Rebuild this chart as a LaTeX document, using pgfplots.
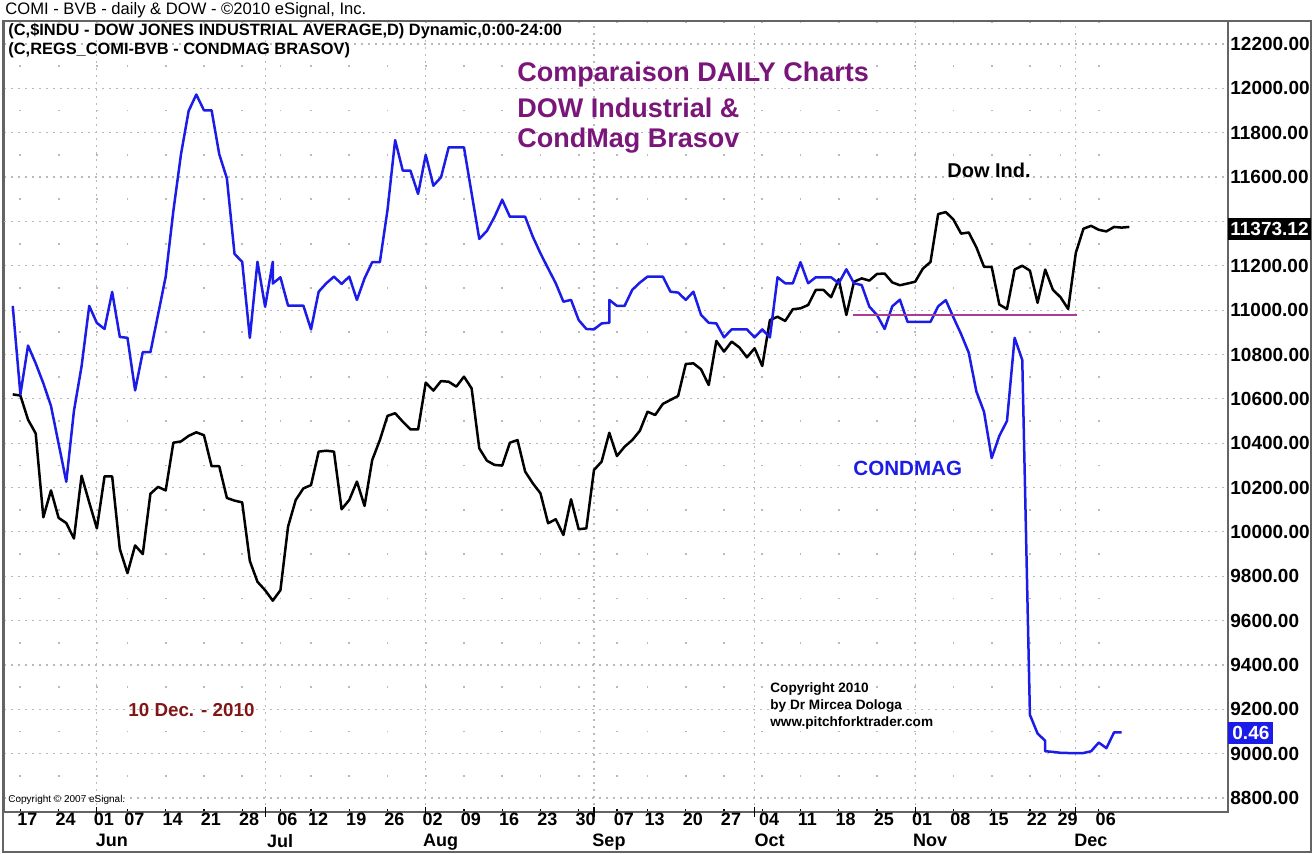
\documentclass[border=0pt]{standalone}
\usepackage{fontspec}
\setmainfont{Liberation Sans}
\usepackage{pgfplots}
\pgfplotsset{compat=1.18}
\usepackage{pgfplotstable}

\definecolor{cmblue}{RGB}{28,28,232}
\definecolor{ttlpurple}{RGB}{122,22,122}
\definecolor{datered}{RGB}{128,22,22}
\definecolor{lvlline}{RGB}{170,60,150}
\definecolor{gridgray}{RGB}{185,185,185}
\definecolor{framegray}{RGB}{100,100,100}

% x = trading day (0 = 14 May 2010), v = close
\pgfplotstableread{
d v
0 10620
1 10615
2 10506
3 10444
4 10066
5 10187
6 10063
7 10040
8 9970
9 10253
10 10133
11 10016
12 10250
13 10250
14 9923
15 9814
16 9939
17 9900
18 10172
19 10203
20 10187
21 10402
22 10408
23 10433
24 10449
25 10436
26 10296
27 10296
28 10153
29 10141
30 10133
31 9869
32 9775
33 9737
34 9690
35 9737
36 10024
37 10144
38 10196
39 10211
40 10362
41 10366
42 10362
43 10102
44 10144
45 10227
46 10117
47 10324
48 10414
49 10523
50 10535
51 10497
52 10462
53 10462
54 10673
55 10637
56 10680
57 10677
58 10655
59 10700
60 10647
61 10377
62 10321
63 10302
64 10299
65 10402
66 10414
67 10272
68 10219
69 10174
70 10039
71 10057
72 9986
73 10147
74 10012
75 10016
76 10279
77 10317
78 10447
79 10342
80 10384
81 10414
82 10456
83 10542
84 10527
85 10577
86 10595
87 10613
88 10757
89 10760
90 10733
91 10662
92 10861
93 10813
94 10858
95 10832
96 10787
97 10828
98 10748
99 10955
100 10970
101 10951
102 11004
103 11008
104 11023
105 11091
106 11091
107 11058
108 11139
109 10978
110 11128
111 11143
112 11133
113 11163
114 11165
115 11125
116 11112
117 11120
118 11128
119 11187
120 11217
121 11433
122 11442
123 11408
124 11345
125 11350
126 11283
127 11195
128 11195
129 11025
130 11005
131 11183
132 11200
133 11178
134 11033
135 11183
136 11092
137 11058
138 11005
139 11258
140 11367
141 11380
142 11362
143 11355
144 11375
145 11372
146 11375
}\dowtab

% CondMag, drawn on the Dow scale as in the chart (steps = BVB-only days)
\pgfplotstableread{
d v
0 11019
1 10620
2 10840
3 10760
4 10670
5 10568
6 10397
7 10226
8 10545
9 10747
10 11019
11 10942
12 10915
13 11082
14 10879
15 10875
16 10638
17 10810
18 10810
19 10980
20 11151
21 11447
22 11703
23 11898
24 11972
25 11901
26 11901
27 11703
28 11594
29 11253
30 11218
31 10875
32 11218
33 11015
34 11218
34 11120
35 11148
36 11020
37 11020
38 11020
39 10913
40 11083
41 11121
42 11151
43 11118
44 11151
45 11046
46 11143
47 11216
48 11216
49 11451
50 11767
51 11629
52 11629
53 11524
54 11700
55 11561
56 11599
57 11734
58 11734
59 11734
60 11527
61 11321
62 11357
63 11421
64 11497
65 11421
66 11421
67 11421
68 11331
69 11256
70 11188
71 11121
72 11038
73 11046
74 10955
75 10915
76 10913
77 10940
78 10943
78 11046
79 11019
80 11019
81 11091
82 11124
83 11151
84 11151
85 11151
86 11083
87 11079
88 11046
89 11083
90 10978
91 10943
92 10940
93 10877
94 10913
95 10913
96 10913
97 10877
98 10913
99 10877
100 11148
101 11121
102 11121
103 11216
104 11121
105 11148
106 11148
107 11148
108 11121
109 11184
110 11121
111 11113
112 11016
113 10978
114 10915
115 11017
116 11047
117 10947
118 10947
119 10947
120 10947
121 11017
122 11045
123 10967
124 10892
125 10808
126 10633
127 10541
128 10333
129 10433
130 10500
131 10875
132 10775
133 9175
134 9091
135 9058
135 9011
136 9008
137 9004
138 9003
139 9003
140 9003
141 9011
142 9050
143 9025
144 9096
145 9096
}\cmtab

\begin{document}
\begin{tikzpicture}
\path[use as bounding box] (0,0) rectangle (656.5pt,427pt);
\begin{axis}[
  at={(2pt,21pt)}, anchor=south west,
  scale only axis, width=612pt, height=395.5pt,
  xmin=-1.144, xmax=158.9, ymin=8737.1, ymax=12303.7,
  axis line style={framegray, line width=0.8pt},
  /pgf/number format/assume math mode=true,
  scaled y ticks=false,
  tick align=center, major tick length=3pt,
  tick style={black, line width=0.6pt},
  xtick pos=bottom,
  xtick={1,6,11,15,20,25,30,35,39,44,49,54,59,64,69,74,79,83,88,93,98,103,108,113,118,123,128,133,137,142},
  xticklabels={17,24,01,07,14,21,28,06,12,19,26,02,09,16,23,30,07,13,20,27,04,11,18,25,01,08,15,22,29,06},
  xticklabel style={font=\bfseries\fontsize{9}{10}\selectfont, xshift=3.5pt, yshift=4.5pt},
  xmajorgrids,
  x grid style={gridgray, line width=0.9pt, dash pattern=on 0.9pt off 21.28pt, dash phase=4.6pt},
  extra x ticks={11,33,54,76,97,118,139},
  extra x tick labels={Jun,Jul,Aug,Sep,Oct,Nov,Dec},
  extra x tick style={
    x grid style={gridgray, line width=0.6pt, dash pattern=on 0.8pt off 2.7pt, dash phase=0pt},
    xticklabel style={xshift=4pt, yshift=-9.5pt},
    major tick length=5pt},
  % 11400 is hidden under the last-value tag, as in the chart
  ytick={8800,9000,...,11200,11600,11800,12000,12200},
  extra y ticks={11400},
  extra y tick labels={},
  ytick pos=right, yticklabel pos=right,
  ytick style={draw=none},
  ymajorgrids,
  y grid style={gridgray, line width=0.6pt, dash pattern=on 0.8pt off 2.7pt},
  yticklabel style={anchor=west, inner sep=1pt, xshift=-1.5pt, font=\bfseries\fontsize{9.5}{10}\selectfont},
  yticklabel={\pgfmathprintnumber[fixed,fixed zerofill,precision=2,1000 sep={}]{\tick}},
]
\addplot[black, line width=1.25pt, line join=round] table[x=d,y=v]{\dowtab};
\addplot[cmblue, line width=1.25pt, line join=round] table[x=d,y=v]{\cmtab};
\addplot[lvlline, line width=0.7pt] coordinates {(109.9,10978) (139.1,10978)};
\end{axis}

% texts, placed in reference pixels (1 px = 0.5 pt, y downwards)
\begin{scope}[x=0.5pt, y=-0.5pt, shift={(0pt,427pt)}]
\draw[framegray, line width=0.8pt] (3,21) rectangle (1311,852);
\node[anchor=west, inner sep=0, font=\fontsize{8.3}{10}\selectfont] at (5,10) {COMI - BVB - daily \& DOW - ©2010 eSignal, Inc.};
\node[anchor=west, inner sep=0, font=\bfseries\fontsize{8.2}{10}\selectfont] at (8,31) {(C,\$INDU - DOW JONES INDUSTRIAL AVERAGE,D) Dynamic,0:00-24:00};
\node[anchor=west, inner sep=0, font=\bfseries\fontsize{8.2}{10}\selectfont] at (8,50) {(C,REGS\_COMI-BVB - CONDMAG BRASOV)};
\node[anchor=west, inner sep=0, text=ttlpurple, font=\bfseries\fontsize{13.5}{16}\selectfont] at (517,75) {Comparaison DAILY Charts};
\node[anchor=west, inner sep=0, text=ttlpurple, font=\bfseries\fontsize{13.5}{16}\selectfont] at (517,108) {DOW Industrial \&};
\node[anchor=west, inner sep=0, text=ttlpurple, font=\bfseries\fontsize{13.5}{16}\selectfont] at (517,141) {CondMag Brasov};
\node[anchor=west, inner sep=0, font=\bfseries\fontsize{10}{12}\selectfont] at (947,170) {Dow Ind.};
\node[anchor=west, inner sep=0, text=cmblue, font=\bfseries\fontsize{10.3}{12}\selectfont] at (853,468) {CONDMAG};
\node[anchor=west, inner sep=0, text=datered, font=\bfseries\fontsize{9.4}{11}\selectfont] at (128,710) {10 Dec. - 2010};
\node[anchor=west, inner sep=0, font=\bfseries\fontsize{6.8}{8}\selectfont] at (770,689) {Copyright 2010};
\node[anchor=west, inner sep=0, font=\bfseries\fontsize{6.8}{8}\selectfont] at (770,706) {by Dr Mircea Dologa};
\node[anchor=west, inner sep=0, font=\bfseries\fontsize{6.8}{8}\selectfont] at (770,723) {www.pitchforktrader.com};
\node[anchor=west, inner sep=0, font=\fontsize{5}{6}\selectfont] at (8,800) {Copyright © 2007 eSignal.};
\node[anchor=west, fill=black, text=white, inner xsep=1pt, inner ysep=2pt, font=\bfseries\fontsize{9.5}{10}\selectfont] at (1228,229) {11373.12};
\node[anchor=west, fill=cmblue, text=white, inner xsep=2pt, inner ysep=2pt, font=\bfseries\fontsize{9.5}{10}\selectfont] at (1228,733) {0.46};
\end{scope}
\end{tikzpicture}
\end{document}
